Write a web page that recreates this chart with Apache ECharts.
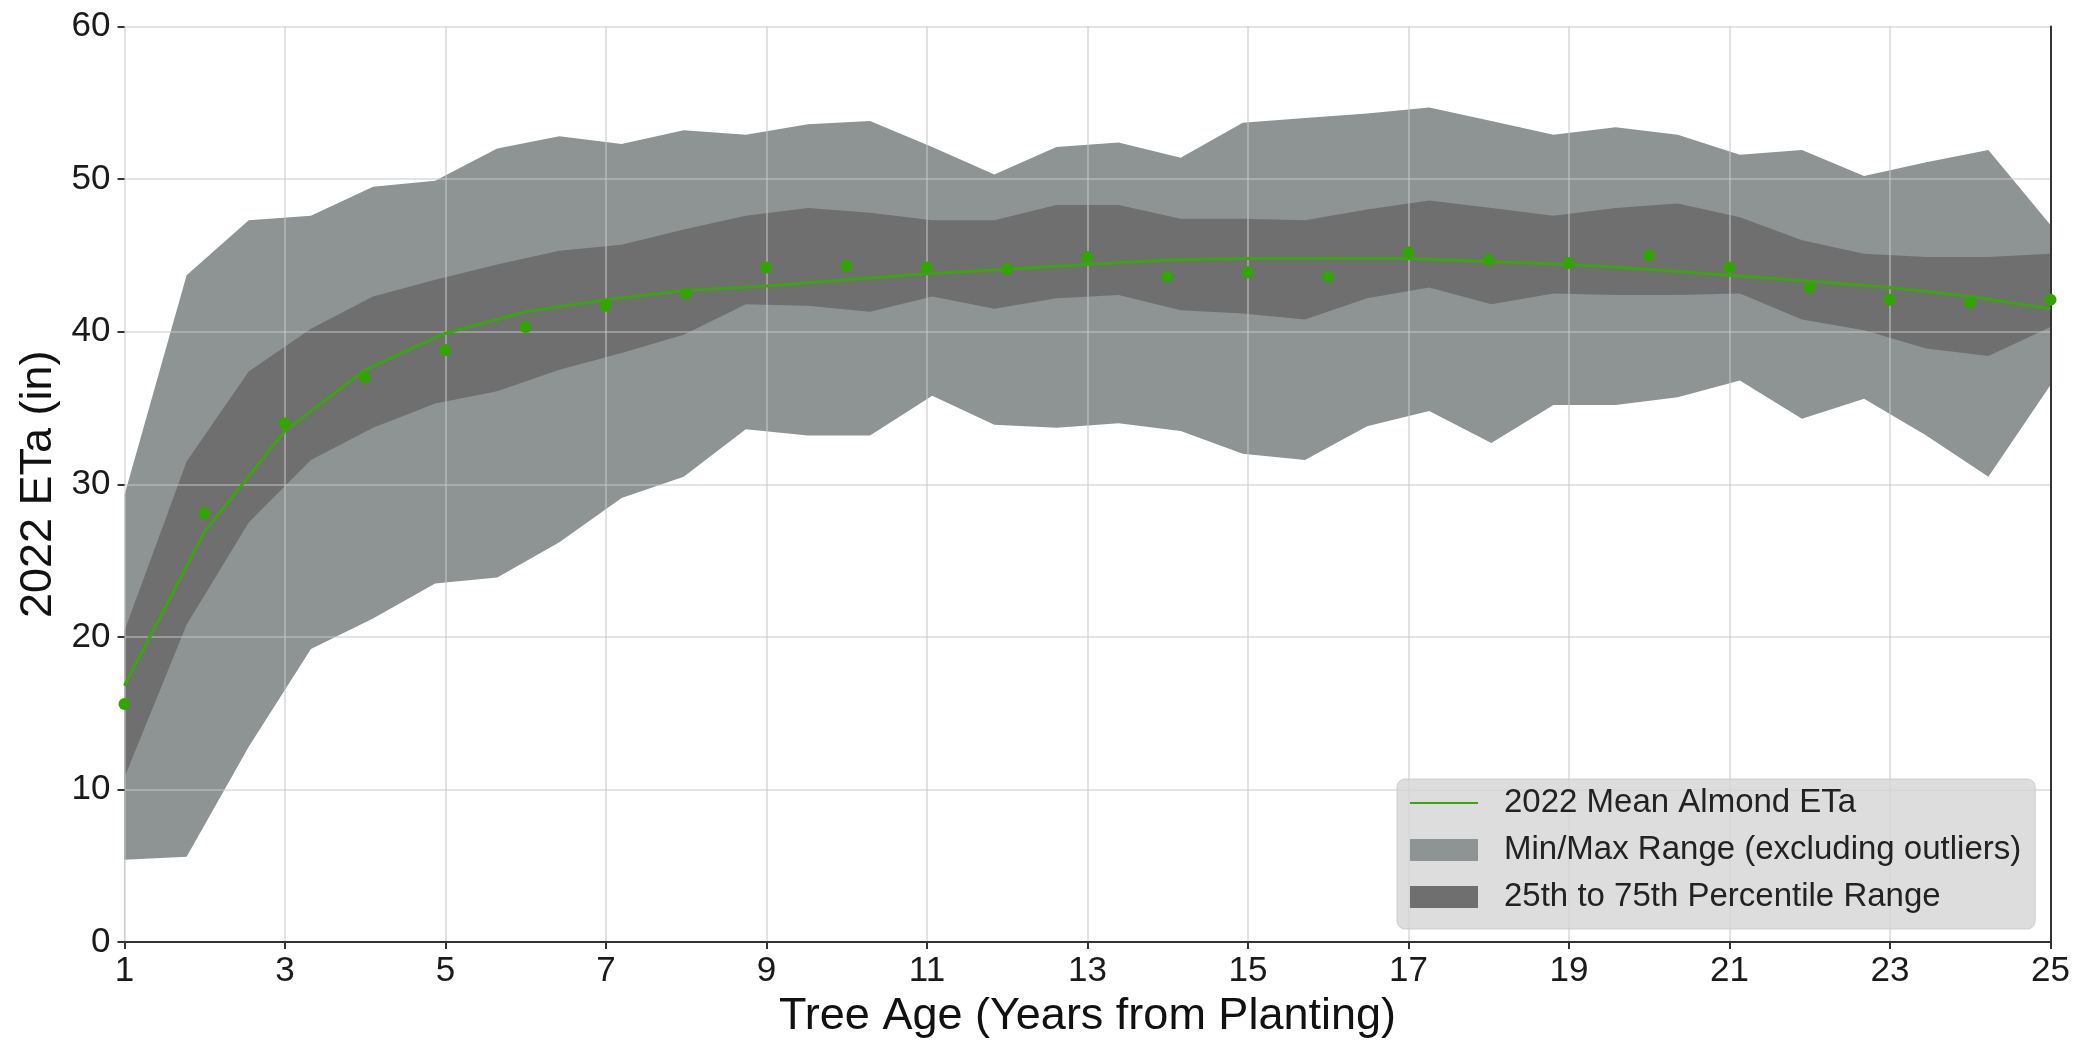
<!DOCTYPE html>
<html>
<head>
<meta charset="utf-8">
<title>2022 Almond ETa by Tree Age</title>
<script src="https://cdn.jsdelivr.net/npm/echarts@6/dist/echarts.min.js"></script>
<style>
  html, body { margin: 0; padding: 0; background: #fff; }
  #chart { width: 2077px; height: 1044px; }
</style>
</head>
<body>
<div id="chart"></div>
<script>
// range bands are sampled on 32 evenly spaced ages between 1 and 25
var bandAges = [1.000, 1.774, 2.548, 3.323, 4.097, 4.871, 5.645, 6.419, 7.194, 7.968,
  8.742, 9.516, 10.290, 11.065, 11.839, 12.613, 13.387, 14.161, 14.935, 15.710,
  16.484, 17.258, 18.032, 18.806, 19.581, 20.355, 21.129, 21.903, 22.677, 23.452,
  24.226, 25.000];
var bandMax = [29.3, 43.7, 47.3, 47.6, 49.5, 49.9, 52.0, 52.8, 52.3, 53.2,
  52.9, 53.6, 53.8, 52.1, 50.3, 52.1, 52.4, 51.4, 53.7, 54.0,
  54.3, 54.7, 53.8, 52.9, 53.4, 52.9, 51.6, 51.9, 50.2, 51.1,
  51.9, 47.0];
var bandP75 = [20.4, 31.5, 37.4, 40.2, 42.3, 43.4, 44.4, 45.3, 45.7, 46.7,
  47.6, 48.1, 47.8, 47.3, 47.3, 48.3, 48.3, 47.4, 47.4, 47.3,
  48.0, 48.6, 48.1, 47.6, 48.1, 48.4, 47.5, 46.0, 45.1, 44.9,
  44.9, 45.1];
var bandP25 = [10.8, 20.8, 27.5, 31.6, 33.7, 35.3, 36.1, 37.5, 38.6, 39.8,
  41.8, 41.7, 41.3, 42.3, 41.5, 42.2, 42.4, 41.4, 41.2, 40.8,
  42.2, 42.9, 41.8, 42.5, 42.4, 42.4, 42.5, 40.8, 40.1, 38.9,
  38.4, 40.3];
var bandMin = [5.4, 5.6, 12.8, 19.2, 21.2, 23.5, 23.9, 26.2, 29.1, 30.5,
  33.6, 33.2, 33.2, 35.8, 33.9, 33.7, 34.0, 33.5, 32.0, 31.6,
  33.8, 34.8, 32.7, 35.2, 35.2, 35.7, 36.8, 34.3, 35.6, 33.2,
  30.5, 36.5];

// yearly mean (line) and yearly points
var ages = [1, 2, 3, 4, 5, 6, 7, 8, 9, 10, 11, 12, 13, 14, 15, 16, 17, 18, 19, 20, 21, 22, 23, 24, 25];
var meanLine = [16.8, 26.9, 33.5, 37.5, 39.9, 41.3, 42.1, 42.7, 43.0, 43.4, 43.8, 44.1, 44.4,
  44.7, 44.8, 44.8, 44.8, 44.6, 44.4, 44.1, 43.7, 43.3, 42.9, 42.3, 41.5];
var meanPoints = [15.6, 28.1, 34.0, 37.0, 38.8, 40.3, 41.7, 42.5, 44.2, 44.3, 44.2, 44.1, 44.9,
  43.6, 43.9, 43.6, 45.2, 44.7, 44.5, 45.0, 44.2, 42.9, 42.1, 41.9, 42.1];

var lineName = '2022 Mean Almond ETa';
var rangeName = 'Min/Max Range (excluding outliers)';
var iqrName = '25th to 75th Percentile Range';

var FONT = "'Liberation Sans', Arial, sans-serif";
var lightGrey = '#8e9394';
var darkGrey = '#6f6f6f';
var green = '#3da312';
var gridColor = 'rgba(200,200,200,0.65)';

function pairs(xs, ys) {
  return xs.map(function (x, i) { return [x, ys[i]]; });
}

// bands are painted as layered areas down to the axis:
// max (light) -> p75 (dark) -> p25 (light) -> min (white)
function bandLayer(name, ys, color) {
  return {
    name: name,
    type: 'line',
    z: 1,
    silent: true,
    symbol: 'none',
    itemStyle: { color: color },
    lineStyle: { width: 0, opacity: 0 },
    areaStyle: { color: color, opacity: 1, origin: 'start' },
    data: pairs(bandAges, ys)
  };
}

var chart = echarts.init(document.getElementById('chart'));

var option = {
  animation: false,
  grid: { left: 124.5, right: 26.5, top: 26.5, bottom: 99.5 },
  legend: {
    orient: 'vertical',
    left: 1397,
    top: 779,
    itemWidth: 68,
    itemHeight: 22,
    itemGap: 11,
    padding: [6, 14, 14, 12],
    backgroundColor: 'rgba(212,212,212,0.8)',
    borderColor: 'rgba(200,200,200,0.8)',
    borderWidth: 1,
    borderRadius: 8,
    textStyle: { fontSize: 33, fontFamily: FONT, color: '#222', lineHeight: 36, padding: [0, 0, 0, 21] },
    data: [
      { name: lineName, itemStyle: { opacity: 0 } },
      { name: rangeName, icon: 'rect', itemStyle: { color: lightGrey, borderWidth: 0 } },
      { name: iqrName, icon: 'rect', itemStyle: { color: darkGrey, borderWidth: 0 } }
    ]
  },
  xAxis: {
    type: 'value',
    min: 1,
    max: 25,
    interval: 2,
    z: 2,
    name: 'Tree Age (Years from Planting)',
    nameLocation: 'middle',
    nameGap: 50,
    nameTextStyle: { fontSize: 45, fontFamily: FONT, color: '#111' },
    axisLine: { show: true, lineStyle: { color: '#333', width: 2 } },
    axisTick: { show: true, length: 7, lineStyle: { color: '#333', width: 2 } },
    axisLabel: { fontSize: 35, fontFamily: FONT, color: '#1a1a1a', margin: 12 },
    splitLine: { show: true, lineStyle: { color: gridColor, width: 1.6 } }
  },
  yAxis: [{
    type: 'value',
    min: 0,
    max: 60,
    interval: 10,
    z: 2,
    name: '2022 ETa (in)',
    nameLocation: 'middle',
    nameGap: 60,
    nameTextStyle: { fontSize: 45, fontFamily: FONT, color: '#111' },
    axisLine: { show: false },
    axisTick: { show: true, length: 7, lineStyle: { color: '#333', width: 2 } },
    axisLabel: { fontSize: 35, fontFamily: FONT, color: '#1a1a1a', margin: 14 },
    splitLine: { show: true, lineStyle: { color: gridColor, width: 1.6 } }
  }, {
    type: 'value',
    min: 0,
    max: 60,
    position: 'right',
    z: 2,
    axisLine: { show: true, lineStyle: { color: '#333', width: 2 } },
    axisTick: { show: false },
    axisLabel: { show: false },
    splitLine: { show: false }
  }],
  series: [
    bandLayer(rangeName, bandMax, lightGrey),
    bandLayer(iqrName, bandP75, darkGrey),
    bandLayer('p25Edge', bandP25, lightGrey),
    bandLayer('minEdge', bandMin, '#ffffff'),
    {
      name: lineName,
      type: 'line',
      z: 3,
      symbol: 'none',
      itemStyle: { color: green },
      lineStyle: { color: green, width: 3 },
      data: pairs(ages, meanLine)
    },
    {
      name: 'meanPoints',
      type: 'scatter',
      z: 3,
      symbol: 'circle',
      symbolSize: 12,
      itemStyle: { color: '#33a500', opacity: 1 },
      data: pairs(ages, meanPoints)
    }
  ]
};

chart.setOption(option);
</script>
</body>
</html>
